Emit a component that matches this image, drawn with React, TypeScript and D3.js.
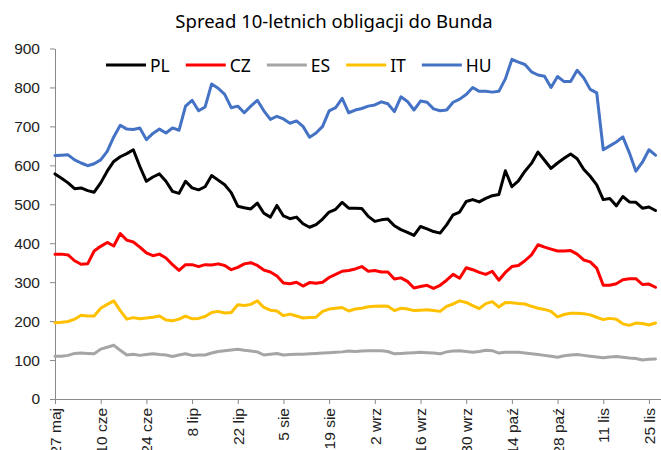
import React, { useEffect, useRef } from 'react';
import * as d3 from 'd3';

// observation dates (every 2nd day)
const dates = [
  '2022-05-27', '2022-05-29', '2022-05-31',
  '2022-06-02', '2022-06-04', '2022-06-06', '2022-06-08', '2022-06-10', '2022-06-12', '2022-06-14', '2022-06-16',
  '2022-06-18', '2022-06-20', '2022-06-22', '2022-06-24', '2022-06-26', '2022-06-28', '2022-06-30',
  '2022-07-02', '2022-07-04', '2022-07-06', '2022-07-08', '2022-07-10', '2022-07-12', '2022-07-14', '2022-07-16',
  '2022-07-18', '2022-07-20', '2022-07-22', '2022-07-24', '2022-07-26', '2022-07-28', '2022-07-30',
  '2022-08-01', '2022-08-03', '2022-08-05', '2022-08-07', '2022-08-09', '2022-08-11', '2022-08-13', '2022-08-15',
  '2022-08-17', '2022-08-19', '2022-08-21', '2022-08-23', '2022-08-25', '2022-08-27', '2022-08-29', '2022-08-31',
  '2022-09-02', '2022-09-04', '2022-09-06', '2022-09-08', '2022-09-10', '2022-09-12', '2022-09-14', '2022-09-16',
  '2022-09-18', '2022-09-20', '2022-09-22', '2022-09-24', '2022-09-26', '2022-09-28', '2022-09-30',
  '2022-10-02', '2022-10-04', '2022-10-06', '2022-10-08', '2022-10-10', '2022-10-12', '2022-10-14', '2022-10-16',
  '2022-10-18', '2022-10-20', '2022-10-22', '2022-10-24', '2022-10-26', '2022-10-28', '2022-10-30',
  '2022-11-01', '2022-11-03', '2022-11-05', '2022-11-07', '2022-11-09', '2022-11-11', '2022-11-13', '2022-11-15',
  '2022-11-17', '2022-11-19', '2022-11-21', '2022-11-23', '2022-11-25', '2022-11-27',
];

const pl = [
  578, 567, 555, 540, 542, 535, 531, 555, 585, 610, 622, 630, 640, 597, 559, 570, 578, 559, 533, 528,
  559, 542, 537, 545, 574, 562, 550, 530, 495, 491, 488, 503, 477, 467, 497, 470, 463, 467, 450, 441,
  448, 462, 480, 487, 505, 490, 490, 489, 469, 456, 460, 462, 445, 435, 428, 420, 443, 437, 430, 426,
  447, 473, 480, 507, 512, 506, 515, 522, 525, 586, 545, 560, 585, 605, 634, 613, 592, 606, 618, 629,
  617, 590, 572, 550, 512, 515, 496, 520, 506, 505, 490, 493, 484,
];

const cz = [
  372, 372, 370, 355, 346, 347, 380, 392, 402, 393, 425, 408, 403, 390, 375, 368, 372, 362, 345, 330,
  345, 345, 340, 345, 344, 347, 343, 332, 338, 347, 350, 343, 331, 326, 316, 298, 296, 300, 290, 299,
  297, 300, 312, 320, 328, 330, 334, 340, 328, 330, 326, 326, 308, 311, 302, 285, 289, 292, 284, 292,
  305, 320, 310, 337, 332, 325, 320, 328, 305, 325, 340, 343, 355, 370, 396, 390, 385, 380, 380, 381,
  372, 357, 352, 336, 292, 292, 296, 306, 309, 309, 294, 295, 287,
];

const es = [
  110, 110, 112, 117, 118, 117, 116, 128, 133, 138, 125, 113, 115, 112, 114, 116, 114, 113, 109, 113,
  116, 112, 113, 113, 118, 122, 124, 126, 128, 125, 123, 121, 113, 115, 117, 113, 114, 115, 115, 116,
  117, 118, 119, 120, 121, 123, 122, 123, 124, 124, 124, 122, 116, 117, 118, 119, 120, 119, 118, 116,
  121, 123, 124, 122, 120, 122, 125, 124, 118, 120, 120, 120, 118, 116, 114, 112, 110, 107, 111, 113,
  114, 112, 110, 108, 106, 108, 109, 107, 105, 104, 100, 102, 103,
];

const it = [
  196, 197, 199, 205, 215, 213, 213, 233, 243, 252, 227, 205, 209, 206, 208, 210, 213, 203, 201, 205,
  213, 206, 207, 212, 222, 225, 221, 222, 242, 240, 243, 252, 235, 228, 226, 214, 218, 213, 208, 209,
  210, 225, 231, 233, 235, 226, 231, 233, 237, 238, 239, 238, 227, 233, 231, 227, 228, 229, 227, 225,
  238, 244, 252, 248, 240, 232, 245, 250, 236, 248, 247, 245, 244, 238, 233, 230, 225, 211, 217, 220,
  220, 219, 216, 210, 204, 207, 205, 193, 189, 195, 194, 190, 195,
];

const hu = [
  625, 626, 627, 614, 606, 599, 604, 614, 636, 673, 703, 693, 692, 696, 666, 682, 693, 683, 696, 690,
  752, 767, 740, 750, 809, 798, 782, 748, 752, 735, 752, 767, 740, 718, 726, 719, 708, 714, 700, 672,
  683, 700, 740, 748, 772, 735, 742, 746, 752, 755, 763, 758, 738, 776, 764, 742, 765, 762, 745, 740,
  742, 762, 770, 782, 800, 790, 790, 788, 790, 822, 872, 865, 859, 840, 832, 829, 800, 828, 815, 815,
  844, 825, 795, 786, 640, 650, 660, 673, 632, 585, 608, 640, 626,
];

const seriesNames = ['PL', 'CZ', 'ES', 'IT', 'HU'];
const seriesColors = ['#000000', '#ff0000', '#a5a5a5', '#ffc000', '#4472c4'];
const seriesValues = [pl, cz, es, it, hu];

const tickDates = [
  '2022-05-27', '2022-06-10', '2022-06-24', '2022-07-08', '2022-07-22', '2022-08-05', '2022-08-19',
  '2022-09-02', '2022-09-16', '2022-09-30', '2022-10-14', '2022-10-28', '2022-11-11', '2022-11-25',
];
const tickLabels = [
  '27 maj', '10 cze', '24 cze', '8 lip', '22 lip', '5 sie', '19 sie',
  '2 wrz', '16 wrz', '30 wrz', '14 paź', '28 paź', '11 lis', '25 lis',
];
const yTicks = [0, 100, 200, 300, 400, 500, 600, 700, 800, 900];

const title = 'Spread 10-letnich obligacji do Bunda';

const App = () => {
  const chartRef = useRef<SVGSVGElement>(null);

  useEffect(() => {
    const svg = d3.select(chartRef.current);
    svg.selectAll('*').remove();

    const axisFont = '"Liberation Sans", Arial, sans-serif';
    const labelFont = '"Noto Sans", sans-serif';
    const axisColor = '#898989';

    const parse = d3.timeParse('%Y-%m-%d');
    const xDates = dates.map(d => parse(d) as Date);

    const x = d3.scaleTime()
      .domain([parse('2022-05-27') as Date, parse('2022-11-29') as Date])
      .range([55, 662]);

    const y = d3.scaleLinear()
      .domain([0, 900])
      .range([399, 48.5]);

    // title
    svg.append('text')
      .attr('x', 334)
      .attr('y', 28)
      .attr('text-anchor', 'middle')
      .style('font-family', labelFont)
      .style('font-size', '18.5px')
      .style('fill', '#000')
      .text(title);

    // y axis
    const yAxis = svg.append('g')
      .attr('transform', 'translate(55,0)')
      .call(d3.axisLeft(y).tickValues(yTicks).tickSize(5).tickSizeOuter(0).tickPadding(10));
    yAxis.select('.domain').attr('stroke', axisColor);
    yAxis.selectAll('line').attr('stroke', axisColor);
    yAxis.selectAll('text')
      .style('font-family', axisFont)
      .style('font-size', '15.5px')
      .style('fill', '#222');

    // x axis
    const xAxis = svg.append('g')
      .attr('transform', 'translate(0,399)')
      .call(d3.axisBottom(x)
        .tickValues(tickDates.map(d => parse(d) as Date))
        .tickFormat((d, i) => tickLabels[i])
        .tickSize(5)
        .tickSizeOuter(0));
    xAxis.select('.domain').attr('stroke', axisColor);
    xAxis.selectAll('line').attr('stroke', axisColor);
    xAxis.selectAll('text')
      .attr('transform', 'rotate(-90)')
      .attr('text-anchor', 'end')
      .attr('x', -9)
      .attr('y', 0)
      .attr('dy', '0.35em')
      .style('font-family', axisFont)
      .style('font-size', '15.5px')
      .style('fill', '#222');

    // lines
    const line = d3.line<number>()
      .x((d, i) => x(xDates[i]))
      .y(d => y(d));

    seriesValues.forEach((values, k) => {
      svg.append('path')
        .datum(values)
        .attr('d', line)
        .attr('fill', 'none')
        .attr('stroke', seriesColors[k])
        .attr('stroke-width', 3)
        .attr('stroke-linejoin', 'round')
        .attr('stroke-linecap', 'round');
    });

    // legend
    let lx = 106;
    const ly = 65;
    seriesNames.forEach((name, k) => {
      svg.append('line')
        .attr('x1', lx)
        .attr('x2', lx + 40)
        .attr('y1', ly)
        .attr('y2', ly)
        .attr('stroke', seriesColors[k])
        .attr('stroke-width', 3);
      const t = svg.append('text')
        .attr('x', lx + 44)
        .attr('y', ly + 7)
        .style('font-family', labelFont)
        .style('font-size', '17.5px')
        .style('fill', '#000')
        .text(name);
      const w = (t.node() as SVGTextElement).getComputedTextLength();
      lx += 40 + 4 + w + 16;
    });
  }, []);

  return (
    <svg
      ref={chartRef}
      width={661}
      height={450}
      style={{ position: 'absolute', left: 0, top: 0, background: '#fff' }}
    />
  );
};

export default App;
